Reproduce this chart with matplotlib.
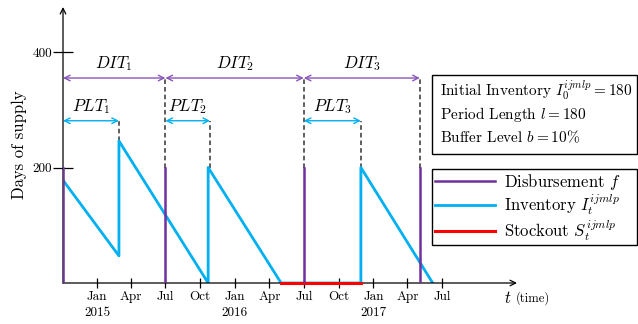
import datetime as dt
import matplotlib
matplotlib.use('Agg')
import matplotlib.pyplot as plt
from matplotlib.patches import Rectangle

plt.rcParams['font.family'] = 'serif'
plt.rcParams['font.serif'] = ['cmr10']
plt.rcParams['mathtext.fontset'] = 'cm'
plt.rcParams['axes.unicode_minus'] = False

D = lambda s: dt.datetime.strptime(s, '%Y-%m-%d')

# inventory path (days of supply)
inv_dates = ['2014-10-03', '2015-02-28', '2015-02-28', '2015-10-22', '2015-10-22',
             '2016-05-02', '2016-11-29', '2016-11-29', '2017-06-07']
inv_vals = [178, 47, 246, 0, 200, 0, 0, 200, 0]

# stockout segment
stock_dates = ['2016-05-02', '2016-11-29']
stock_vals = [0, 0]

# disbursements
disb_dates = ['2014-10-03', '2015-07-01', '2016-07-01', '2017-05-04']
disb_height = 200

# arrival of shipments (end of PLT)
arrival_dates = ['2015-02-28', '2015-10-27', '2016-11-29']
arrival_vals = [246, 200, 200]

dit_labels = ['$DIT_1$', '$DIT_2$', '$DIT_3$']
plt_labels = ['$PLT_1$', '$PLT_2$', '$PLT_3$']
dit_level = 355
plt_level = 281

tick_dates = ['2015-01-01', '2015-04-01', '2015-07-01', '2015-10-01', '2016-01-01',
              '2016-04-01', '2016-07-01', '2016-10-01', '2017-01-01', '2017-04-01',
              '2017-07-01']
tick_labels = ['Jan\n2015', 'Apr', 'Jul', 'Oct', 'Jan\n2016', 'Apr', 'Jul', 'Oct',
               'Jan\n2017', 'Apr', 'Jul']

purple = '#7030a0'
purple_l = '#8755b8'
cyan = '#00b0f0'
red = '#ff0000'

fig = plt.figure(figsize=(6.38, 3.24), dpi=100)
ax = fig.add_axes([63/638, 41/324, 454/638, 276/324])
ax.set_xlim(D('2014-10-03'), D('2018-01-16'))
ax.set_ylim(0, 478)
for s in ax.spines.values():
    s.set_visible(False)

dd = [D(d) for d in disb_dates]
ad = [D(d) for d in arrival_dates]

# dashed guide lines
for d in dd[1:]:
    ax.plot([d, d], [disb_height, dit_level], color='#333333', ls=(0, (3, 2)), lw=1.1)
for d, v in zip(ad, arrival_vals):
    ax.plot([d, d], [v, plt_level], color='#333333', ls=(0, (3, 2)), lw=1.1)

ax.plot([D(d) for d in inv_dates], inv_vals, color=cyan, lw=2.0, label='Inventory $I_t^{ijmlp}$', zorder=3)
ax.plot([D(d) for d in stock_dates], stock_vals, color=red, lw=2.2, label='Stockout $S_t^{ijmlp}$', zorder=4, clip_on=False)
for i, d in enumerate(dd):
    ax.plot([d, d], [0, disb_height], color=purple, lw=1.8, zorder=4,
            label='Disbursement $f$' if i == 0 else None)

# DIT arrows
for i in range(3):
    ax.annotate('', xy=(dd[i + 1], dit_level), xytext=(dd[i], dit_level),
                arrowprops=dict(arrowstyle='<->', color=purple_l, lw=1.0,
                                shrinkA=0, shrinkB=0))
    mid = dd[i] + (dd[i + 1] - dd[i]) / 2
    ax.text(mid, dit_level + 8, dit_labels[i], ha='center', va='bottom', fontsize=12)

# PLT arrows
for i in range(3):
    ax.annotate('', xy=(ad[i], plt_level), xytext=(dd[i], plt_level),
                arrowprops=dict(arrowstyle='<->', color=cyan, lw=1.0,
                                shrinkA=0, shrinkB=0))
    mid = dd[i] + (ad[i] - dd[i]) / 2
    ax.text(mid, plt_level + 8, plt_labels[i], ha='center', va='bottom', fontsize=12)

# axes arrows
ax.annotate('', xy=(1, 0), xytext=(0, 0), xycoords='axes fraction',
            arrowprops=dict(arrowstyle='->', color='black', lw=0.9, shrinkA=0, shrinkB=0))
ax.annotate('', xy=(0, 1), xytext=(0, 0), xycoords='axes fraction',
            arrowprops=dict(arrowstyle='->', color='black', lw=0.9, shrinkA=0, shrinkB=0))

ax.set_xticks([D(d) for d in tick_dates])
ax.set_xticklabels(tick_labels, fontsize=9.5, linespacing=1.5)
ax.tick_params(axis='x', direction='inout', length=7, width=0.9, pad=2)
ax.set_yticks([200, 400])
ax.set_yticklabels(['200', '400'], fontsize=9.5)
ax.tick_params(axis='y', direction='inout', length=14, width=0.9, pad=1)
ax.set_ylabel('Days of supply', fontsize=12, labelpad=4)

fig.text(504/638, 1 - 298/324, '$t$', fontsize=12, va='center')
fig.text(516/638, 1 - 298/324, '(time)', fontsize=9, va='center')

# info box
fig.patches.append(Rectangle((432/638, 1 - 154/324), 205/638, 79/324,
                             transform=fig.transFigure, fill=False, ec='black', lw=1.0))
info = ['Initial Inventory $I_0^{ijmlp} = 180$', 'Period Length $l = 180$',
        'Buffer Level $b = 10\\%$']
for i, t in enumerate(info):
    fig.text(440/638, 1 - (91 + 23 * i) / 324, t, fontsize=11, va='center')

h, l = ax.get_legend_handles_labels()
order = [l.index('Disbursement $f$'), l.index('Inventory $I_t^{ijmlp}$'), l.index('Stockout $S_t^{ijmlp}$')]
leg = fig.legend([h[i] for i in order], [l[i] for i in order], loc='upper left',
                 bbox_to_anchor=(432/638, 1 - 249/324, 205/638, 80/324), mode='expand',
                 borderaxespad=0, fancybox=False, edgecolor='black', fontsize=12,
                 handlelength=3.6, borderpad=0.15, labelspacing=0.0, handletextpad=0.6,
                 framealpha=1)
leg.get_frame().set_linewidth(1.0)

fig.savefig('out.png', dpi=100)
